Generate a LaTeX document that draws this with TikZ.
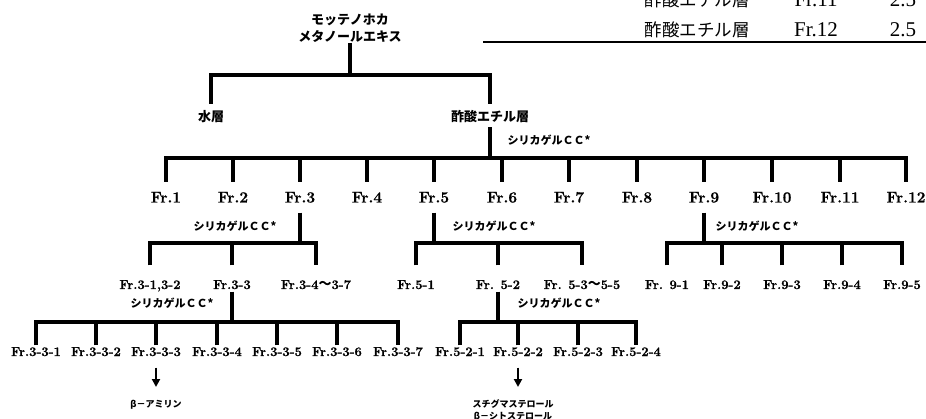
\documentclass[tikz,border=0pt]{standalone}
\usepackage{fontspec}
\newfontfamily\jp{Noto Sans CJK JP}
\newfontfamily\frf{Latin Modern Roman}[BoldFeatures={FakeBold=0.8}]
\newfontfamily\tbserif{Liberation Serif}
\usetikzlibrary{arrows.meta}
\begin{document}
\begin{tikzpicture}[x=1pt,y=-1pt,
  tree/.style={line width=3.3pt},
  arr/.style={line width=2.2pt,-{Triangle[length=8pt,width=8pt]}},
  lv0/.style={anchor=base, inner sep=0pt, font=\jp\bfseries\fontsize{13}{15}\selectfont, text height=18pt, text depth=5pt},
  lv1/.style={anchor=base, inner sep=0pt, font=\frf\bfseries\fontsize{15.5}{18}\selectfont, text height=20.5pt, text depth=10pt},
  lv2/.style={anchor=base, inner sep=0pt, font=\frf\bfseries\fontsize{13}{15}\selectfont, text height=23.5pt, text depth=2.5pt},
  lv3/.style={anchor=base, inner sep=0pt, font=\frf\bfseries\fontsize{13}{15}\selectfont, text height=10.5pt, text depth=11.5pt},
  cc/.style={inner sep=0pt, font=\jp\bfseries\fontsize{11}{13}\selectfont},
  res/.style={anchor=north, inner sep=0pt, outer ysep=13pt, align=center, font=\jp\bfseries\fontsize{9}{11.5}\selectfont},
  tbj/.style={inner sep=0pt, font=\jp\fontsize{17.5}{19}\selectfont},
  tbl/.style={inner sep=0pt, font=\tbserif\fontsize{21}{23}\selectfont}
]
\useasboundingbox (0,0) rectangle (926,419);
\clip (0,0) rectangle (926,419);

% --- table fragment (top right)
\node[tbj] (t1a) at (697,-0.5) {酢酸エチル層};
\node[tbl] (t1b) at (816,-0.5) {Fr.11};
\node[tbl] (t1c) at (903,-0.5) {2.5};
\node[tbj] (t2a) at (697,29.5) {酢酸エチル層};
\node[tbl] (t2b) at (816,29.5) {Fr.12};
\node[tbl] (t2c) at (903,29.5) {2.5};
\coordinate (rl) at (483,42);
\coordinate (rr) at (926,42);
\draw[line width=2.6pt] (rl) -- (rr);

% --- root
\node[anchor=south, inner sep=0pt, align=center, font=\jp\bfseries\fontsize{13}{17}\selectfont] (root) at (350,43) {モッテノホカ\\メタノールエキス};

% --- level 0
\node[lv0] (w) at (211,122) {水層};
\node[lv0] (e) at (490,122) {酢酸エチル層};
\coordinate (b0) at (0,75);
\draw[tree] (w.north) |- (b0 -| e.north) -- (e.north);
\draw[tree] (root.south) -- (root.south |- b0);

% --- level 1
\node[cc] (cc1) at (549,140) {シリカゲルＣＣ*};
\foreach \i/\x in {1/166,2/233,3/300,4/367,5/434,6/502,7/569,8/637,9/704,10/772,11/840,12/906}
  \node[lv1] (f\i) at (\x,202.5) {Fr.\i};
\coordinate (b1) at (0,158);
\draw[tree] (f1.north) |- (b1 -| f12.north) -- (f12.north);
\foreach \i in {2,...,11} \draw[tree] (f\i.north) -- (f\i.north |- b1);
\draw[tree] (e.south) -- (e.south |- b1);

% --- level 2
\coordinate (b2) at (0,243);
\node[cc] (cc2) at (235,226) {シリカゲルＣＣ*};
\node[lv2] (g31) at (150,289) {Fr.3-1,3-2};
\node[lv2] (g33) at (232,289) {Fr.3-3};
\node[lv2] (g34) at (316,289) {Fr.3-4{\jp 〜}3-7};
\draw[tree] (g31.north) |- (b2 -| g34.north) -- (g34.north);
\draw[tree] (g33.north) -- (g33.north |- b2);
\draw[tree] (f3.south) -- (f3.south |- b2);

\node[cc] (cc3) at (494,226) {シリカゲルＣＣ*};
\node[lv2] (g51) at (416,289) {Fr.5-1};
\node[lv2] (g52) at (498,289) {Fr. 5-2};
\node[lv2] (g53) at (582,289) {Fr. 5-3{\jp 〜}5-5};
\draw[tree] (g51.north) |- (b2 -| g53.north) -- (g53.north);
\draw[tree] (g52.north) -- (g52.north |- b2);
\draw[tree] (f5.south) -- (f5.south |- b2);

\node[cc] (cc4) at (757,226) {シリカゲルＣＣ*};
\node[lv2] (g91) at (667,289) {Fr. 9-1};
\node[lv2] (g92) at (722,289) {Fr.9-2};
\node[lv2] (g93) at (782,289) {Fr.9-3};
\node[lv2] (g94) at (842,289) {Fr.9-4};
\node[lv2] (g95) at (902,289) {Fr.9-5};
\draw[tree] (g91.north) |- (b2 -| g95.north) -- (g95.north);
\foreach \i in {2,3,4} \draw[tree] (g9\i.north) -- (g9\i.north |- b2);
\draw[tree] (f9.south) -- (f9.south |- b2);

% --- level 3
\coordinate (b3) at (0,322);
\node[cc] (cc5) at (172,303) {シリカゲルＣＣ*};
\foreach \i/\x in {1/36,2/96,3/156,4/217,5/277,6/337,7/398}
  \node[lv3] (h\i) at (\x,356) {Fr.3-3-\i};
\draw[tree] (h1.north) |- (b3 -| h7.north) -- (h7.north);
\foreach \i in {2,...,6} \draw[tree] (h\i.north) -- (h\i.north |- b3);
\draw[tree] (g33.south) -- (g33.south |- b3);

\node[cc] (cc6) at (559,303) {シリカゲルＣＣ*};
\foreach \i/\x in {1/460,2/518,3/578,4/636}
  \node[lv3] (k\i) at (\x,356) {Fr.5-2-\i};
\draw[tree] (k1.north) |- (b3 -| k4.north) -- (k4.north);
\foreach \i in {2,3} \draw[tree] (k\i.north) -- (k\i.north |- b3);
\draw[tree] (g52.south) -- (g52.south |- b3);

% --- results
\node[res] (r1) at (156,387) {β－アミリン};
\draw[arr] (h3.south) -- (h3.south |- r1.north);
\node[res] (r2) at (513,387) {スチグマステロール\\β－シトステロール};
\draw[arr] (k2.south) -- (k2.south |- r2.north);
\end{tikzpicture}
\end{document}
